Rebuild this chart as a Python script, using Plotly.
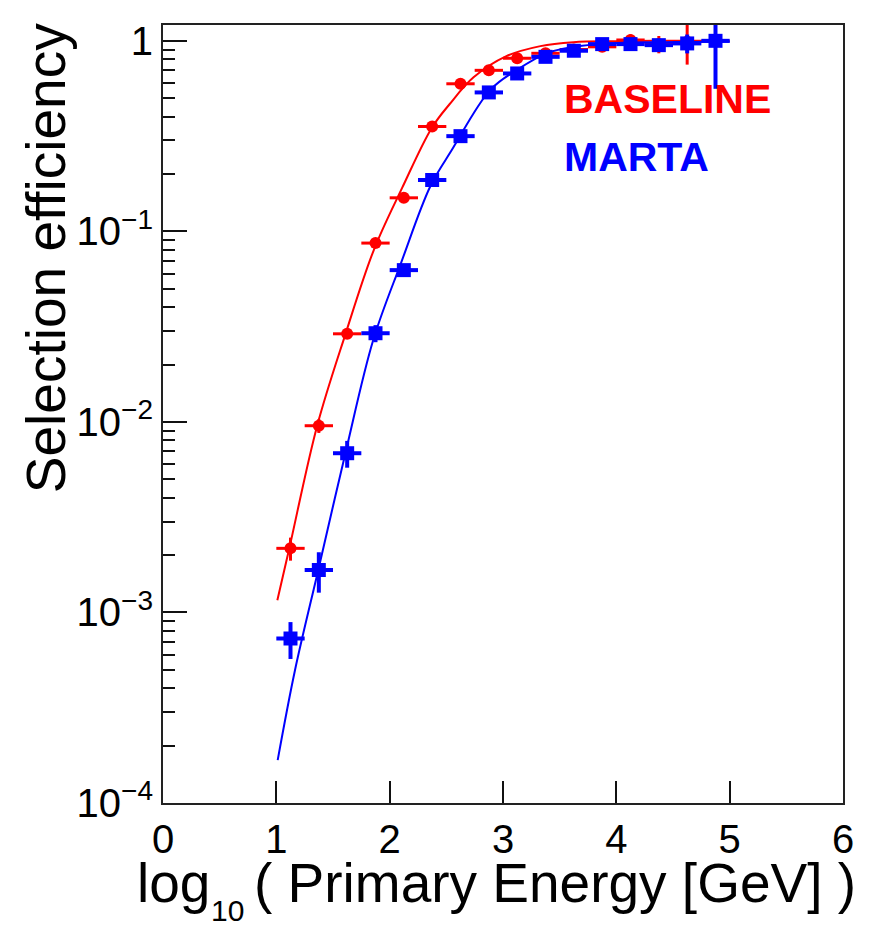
import plotly.graph_objects as go

# ---------------- data ----------------
bin_half_width = 0.125

baseline_x = [1.125, 1.375, 1.625, 1.875, 2.125, 2.375, 2.625, 2.875,
              3.125, 3.375, 3.625, 3.875, 4.125, 4.375, 4.625]
baseline_eff = [0.00217, 0.00955, 0.0290, 0.0868, 0.150, 0.355, 0.595, 0.700,
                0.810, 0.860, 0.900, 0.930, 1.010, 0.960, 0.990]
baseline_err = [0.0003, 0.0008, 0.0015, 0.004, 0.006, 0.012, 0.018, 0.02,
                0.025, 0.03, 0.06, 0.055, 0.07, 0.10, 0.24]

marta_x = [1.125, 1.375, 1.625, 1.875, 2.125, 2.375, 2.625, 2.875,
           3.125, 3.375, 3.625, 3.875, 4.125, 4.375, 4.625, 4.875]
marta_eff = [0.00073, 0.00167, 0.00685, 0.0292, 0.0626, 0.186, 0.316, 0.536,
             0.674, 0.824, 0.887, 0.961, 0.961, 0.949, 0.969, 1.000]
marta_err = [0.00016, 0.0004, 0.0011, 0.003, 0.004, 0.01, 0.015, 0.02,
             0.025, 0.03, 0.035, 0.04, 0.05, 0.06, 0.11, 0.44]

# fitted curves
baseline_fit_x = [1.009, 1.115, 1.36, 1.61, 1.86, 2.11, 2.37, 2.53, 2.74,
                  3.03, 3.33, 3.62, 4.0, 4.5, 5.0]
baseline_fit_y = [0.00116, 0.00218, 0.00953, 0.0289, 0.0798, 0.169, 0.348, 0.466, 0.643,
                  0.831, 0.938, 0.984, 0.996, 1.0, 1.0]

marta_fit_x = [1.012, 1.165, 1.37, 1.61, 1.855, 2.10, 2.36, 2.548, 2.886,
               3.12, 3.39, 3.62, 3.92, 4.3, 5.0]
marta_fit_y = [0.000168, 0.000499, 0.00167, 0.00687, 0.0269, 0.0682, 0.173, 0.267, 0.551,
               0.702, 0.862, 0.927, 0.967, 0.984, 0.990]

x_tick_vals = [0, 1, 2, 3, 4, 5, 6]
y_tick_vals = [1e-4, 1e-3, 1e-2, 1e-1, 1]
y_tick_text = ["10<sup>\u22124</sup>", "10<sup>\u22123</sup>", "10<sup>\u22122</sup>",
               "10<sup>\u22121</sup>", "1"]
y_minor_vals = [m * 10.0 ** e for e in (-4, -3, -2, -1) for m in range(2, 10)]

RED = "#ff0000"
BLUE = "#0000ff"
FONT = "Liberation Sans, Arial, sans-serif"

fig = go.Figure()

fig.add_trace(go.Scatter(
    x=baseline_fit_x, y=baseline_fit_y, mode="lines",
    line=dict(color=RED, width=2, shape="spline", smoothing=1.0),
    showlegend=False, hoverinfo="skip"))
fig.add_trace(go.Scatter(
    x=baseline_x, y=baseline_eff, mode="markers",
    marker=dict(symbol="circle", size=12, color=RED),
    error_x=dict(type="constant", value=bin_half_width, color=RED, thickness=3, width=0),
    error_y=dict(type="data", array=baseline_err, color=RED, thickness=3, width=0),
    name="BASELINE", showlegend=False))
fig.add_trace(go.Scatter(
    x=marta_fit_x, y=marta_fit_y, mode="lines",
    line=dict(color=BLUE, width=2, shape="spline", smoothing=1.0),
    showlegend=False, hoverinfo="skip"))
fig.add_trace(go.Scatter(
    x=marta_x, y=marta_eff, mode="markers",
    marker=dict(symbol="square", size=14, color=BLUE),
    error_x=dict(type="constant", value=bin_half_width, color=BLUE, thickness=4, width=0),
    error_y=dict(type="data", array=marta_err, color=BLUE, thickness=4, width=0),
    name="MARTA", showlegend=False))

axis_common = dict(showgrid=False, zeroline=False, showline=True, mirror=True,
                   linecolor="#222222", linewidth=2, ticks="inside",
                   tickcolor="#111111", tickwidth=2)

fig.update_xaxes(range=[0, 6], tickmode="array", tickvals=x_tick_vals,
                 ticklen=22, tickfont=dict(family=FONT, size=40, color="black"),
                 **axis_common)
fig.update_yaxes(type="log", range=[-4, 0.083], tickmode="array",
                 tickvals=y_tick_vals, ticktext=y_tick_text, ticklen=24,
                 tickfont=dict(family=FONT, size=40, color="black"),
                 minor=dict(tickmode="array", tickvals=y_minor_vals, ticks="inside",
                            ticklen=12, tickcolor="#111111", tickwidth=2),
                 **axis_common)

annotations = [
    dict(text="<b>BASELINE</b>", x=3.52, xref="x", y=0.905, yref="paper",
         xanchor="left", yanchor="middle", showarrow=False,
         font=dict(family=FONT, size=41, color=RED)),
    dict(text="<b>MARTA</b>", x=3.52, xref="x", y=0.830, yref="paper",
         xanchor="left", yanchor="middle", showarrow=False,
         font=dict(family=FONT, size=41, color=BLUE)),
    dict(text="Selection efficiency", textangle=-90, x=-0.172, xref="paper",
         y=1.005, yref="paper", xanchor="center", yanchor="top", showarrow=False,
         font=dict(family=FONT, size=55, color="black")),
    dict(text="log", x=(135 - 162.7) / 680, xref="paper", y=-0.060, yref="paper",
         xanchor="left", yanchor="top", showarrow=False,
         font=dict(family=FONT, size=55, color="black")),
    dict(text="10", x=(209 - 162.7) / 680, xref="paper", y=-(929 - 803) / 778.3,
         yref="paper", xanchor="left", yanchor="bottom", showarrow=False,
         font=dict(family=FONT, size=30, color="black")),
    dict(text="( Primary Energy [GeV] )", x=(858 - 162.7) / 680, xref="paper",
         y=-0.060, yref="paper", xanchor="right", yanchor="top", showarrow=False,
         font=dict(family=FONT, size=55, color="black")),
]

fig.update_layout(
    width=876, height=930,
    margin=dict(l=163, r=33, t=25, b=127, pad=0),
    paper_bgcolor="white", plot_bgcolor="white",
    font=dict(family=FONT, color="black"),
    annotations=annotations,
)

fig.write_html("out.html")
